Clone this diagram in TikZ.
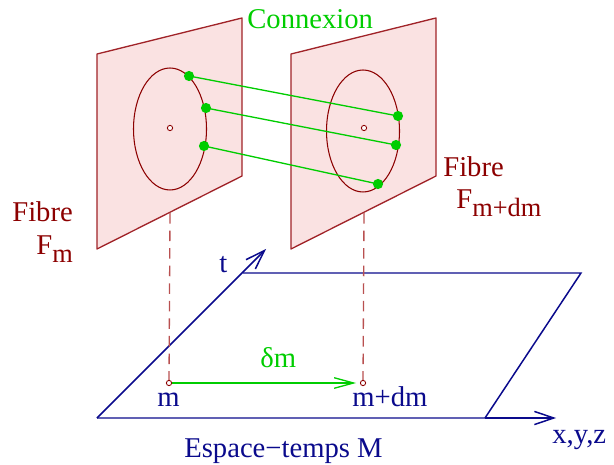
\documentclass[tikz,border=0pt]{standalone}
\usepackage{fontspec}
\setmainfont{Liberation Serif}
\usepackage{tikz}
\usetikzlibrary{arrows.meta,calc}
\definecolor{fibrered}{RGB}{140, 0, 0}
\definecolor{panelfill}{RGB}{250, 226, 226}
\definecolor{paneledge}{RGB}{160, 35, 40}
\definecolor{dashred}{RGB}{185, 80, 80}
\definecolor{connect}{RGB}{0, 205, 0}
\definecolor{basenavy}{RGB}{10, 10, 140}

\begin{document}
\begin{tikzpicture}[x=0.02cm,y=-0.02cm,
  lbl/.style={inner sep=0pt,anchor=base west,font=\fontsize{16.3}{19}\selectfont},
  fibrepanel/.style={fill=panelfill,draw=paneledge,line width=0.75pt,line join=round},
  fibreloop/.style={draw=fibrered,line width=0.6pt},
  conline/.style={connect,line width=0.75pt},
  axis/.style={basenavy,line width=0.85pt,-{Straight Barb[length=11pt,width=7.5pt]}},
  tick/.style={fibrered,line width=0.5pt,fill=white}]
\useasboundingbox (0,0) rectangle (614,465);
% fibres
\draw[fibrepanel] (97,54) -- (242,18) -- (242,176) -- (97,249) -- cycle;
\draw[fibrepanel] (291,54) -- (436,18) -- (436,176) -- (291,249) -- cycle;
\draw[fibreloop] (170,129) ellipse [x radius=0.73cm, y radius=1.22cm];
\draw[fibreloop] (363,131) ellipse [x radius=0.73cm, y radius=1.22cm];
\coordinate (Cl) at (170,128);
\coordinate (Cr) at (364,128);
\coordinate (Bl) at (170,213);
\coordinate (Br) at (364,213);
% espace-temps
\coordinate (O) at (97,418);
\coordinate (R) at (485,418);
\coordinate (RT) at (581,273);
\coordinate (LT) at (243,273);
\coordinate (tEnd) at (266,249);
\coordinate (xEnd) at (556,418);
\draw[basenavy,line width=0.85pt] (O) -- (R) -- (RT) -- (LT);
\draw[axis] (O) -- (tEnd);
\draw[axis] (R) -- (xEnd);
\coordinate (m) at (169,383);
\coordinate (mdm) at (363,383);
\draw[dashred,dashed,dash pattern=on 6pt off 4pt,line width=0.75pt] (Bl) -- (m);
\draw[dashred,dashed,dash pattern=on 6pt off 4pt,line width=0.75pt] (Br) -- (mdm);
\draw[conline,-{Straight Barb[length=11pt,width=6pt]}] (m) -- ($(mdm)+(-7,0)$);
% connexion
\coordinate (P1) at (189,76);
\coordinate (P2) at (206,108);
\coordinate (P3) at (204,146);
\coordinate (Q1) at (398,116);
\coordinate (Q2) at (396,145);
\coordinate (Q3) at (378,184);
\draw[conline] (P1) -- (Q1);
\draw[conline] (P2) -- (Q2);
\draw[conline] (P3) -- (Q3);
\foreach \p in {P1,P2,P3,Q1,Q2,Q3} \fill[connect] (\p) circle (2.9pt);
\foreach \p in {Cl,Cr,m,mdm} \draw[tick] (\p) circle (1.5pt);
% labels
\node[lbl,connect] (conn) at (247,29) {Connexion};
\node[lbl,fibrered] (fl) at (12,222) {Fibre};
\node[lbl,fibrered] (Fl) at (36,255) {F\raisebox{-4.5pt}{\fontsize{15}{17}\selectfont m}};
\node[lbl,fibrered] (fr) at (443,177) {Fibre};
\node[lbl,fibrered] (Fr) at (456,209) {F\raisebox{-4.5pt}{\fontsize{15}{17}\selectfont m+dm}};
\node[lbl,basenavy] (tl) at (219,273) {t};
\node[lbl,basenavy] (xl) at (552,443) {x,y,z};
\node[lbl,basenavy] (el) at (184,457) {Espace−temps M};
\node[lbl,connect] (dl) at (260,367) {δm};
\node[lbl,basenavy] (ml) at (157,406) {m};
\node[lbl,basenavy] (mdml) at (352,406) {m+dm};
\end{tikzpicture}
\end{document}
